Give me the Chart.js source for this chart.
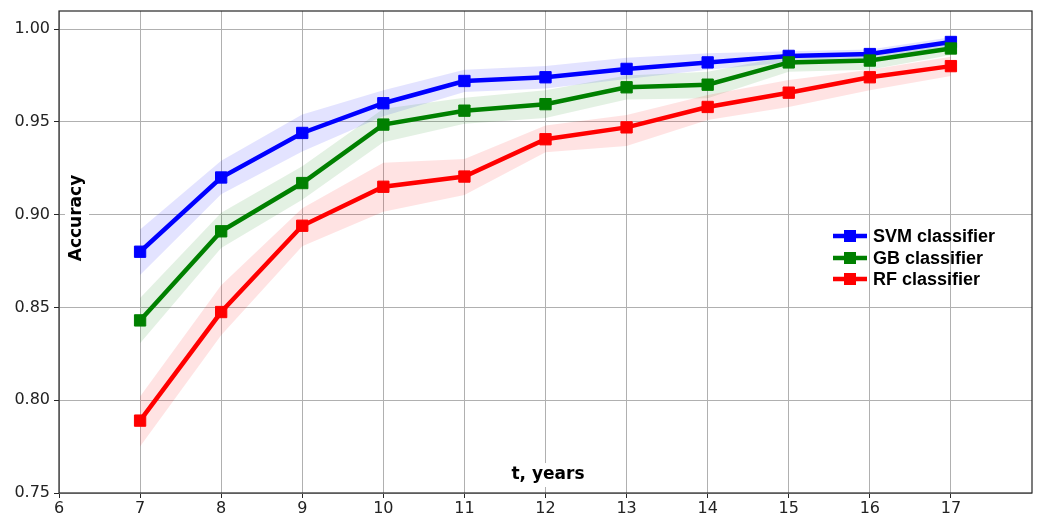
<!DOCTYPE html>
<html><head><meta charset="utf-8">
<script src="https://cdn.jsdelivr.net/npm/chart.js@4.4.0/dist/chart.umd.min.js"></script>
<style>html,body{margin:0;padding:0;background:#fff}#wrap{width:1038px;height:515px;position:relative}</style>
</head><body><div id="wrap"><canvas id="c" width="1038" height="515"></canvas></div>
<script>
const years = [7, 8, 9, 10, 11, 12, 13, 14, 15, 16, 17];
const xTicks = [6, 7, 8, 9, 10, 11, 12, 13, 14, 15, 16, 17];
const yTicks = [0.75, 0.80, 0.85, 0.90, 0.95, 1.00];

const svmAcc  = [0.880, 0.920, 0.944, 0.960, 0.972, 0.974, 0.9785, 0.982, 0.9855, 0.9865, 0.993];
const svmHigh = [0.892, 0.929, 0.954, 0.967, 0.978, 0.980, 0.9845, 0.987, 0.988, 0.989, 0.9955];
const svmLow  = [0.8675, 0.911, 0.934, 0.953, 0.966, 0.968, 0.973, 0.978, 0.982, 0.984, 0.990];

const gbAcc  = [0.843, 0.891, 0.917, 0.9485, 0.956, 0.9595, 0.9686, 0.970, 0.982, 0.983, 0.9895];
const gbHigh = [0.855, 0.901, 0.926, 0.957, 0.963, 0.967, 0.975, 0.977, 0.9855, 0.987, 0.993];
const gbLow  = [0.8307, 0.882, 0.908, 0.939, 0.949, 0.952, 0.962, 0.9627, 0.977, 0.978, 0.986];

const rfAcc  = [0.789, 0.8475, 0.894, 0.915, 0.9205, 0.9406, 0.947, 0.958, 0.9657, 0.974, 0.980];
const rfHigh = [0.802, 0.862, 0.9034, 0.928, 0.930, 0.948, 0.9537, 0.9644, 0.9725, 0.978, 0.985];
const rfLow  = [0.775, 0.835, 0.883, 0.9016, 0.9106, 0.9336, 0.937, 0.951, 0.958, 0.967, 0.9747];

const seriesNames = ['SVM classifier', 'GB classifier', 'RF classifier'];
const seriesColors = ['#0000ff', '#008000', '#ff0000'];
const bandColors = ['rgba(0,0,255,0.11)', 'rgba(0,128,0,0.11)', 'rgba(255,0,0,0.11)'];

const pts = arr => years.map((x, i) => ({x: x, y: arr[i]}));

function lineDs(label, data, color, order) {
  return {label, data: pts(data), borderColor: color, backgroundColor: color,
    borderWidth: 4.5, pointStyle: 'rect', pointRadius: 8, pointHoverRadius: 8,
    pointBorderWidth: 1, pointBackgroundColor: color, pointBorderColor: color,
    fill: false, tension: 0, order};
}
function bandDs(label, data, color, fill, order) {
  return {label, data: pts(data), borderColor: 'rgba(0,0,0,0)', borderWidth: 0,
    backgroundColor: color, pointRadius: 0, pointHoverRadius: 0, fill, tension: 0, order};
}

const datasets = [
  lineDs(seriesNames[2], rfAcc, seriesColors[2], 0),
  lineDs(seriesNames[1], gbAcc, seriesColors[1], 1),
  lineDs(seriesNames[0], svmAcc, seriesColors[0], 2),
  bandDs('svmHigh', svmHigh, bandColors[0], '+1', 5),
  bandDs('svmLow', svmLow, bandColors[0], false, 5),
  bandDs('gbHigh', gbHigh, bandColors[1], '+1', 4),
  bandDs('gbLow', gbLow, bandColors[1], false, 4),
  bandDs('rfHigh', rfHigh, bandColors[2], '+1', 3),
  bandDs('rfLow', rfLow, bandColors[2], false, 3)
];

const decor = {
  id: 'decor',
  afterDraw(chart) {
    const ctx = chart.ctx, a = chart.chartArea;
    ctx.save();
    ctx.strokeStyle = '#262626';
    ctx.lineWidth = 1.2;
    ctx.strokeRect(a.left, a.top, a.right - a.left, a.bottom - a.top);
    ctx.font = 'bold 17px "DejaVu Sans"';
    ctx.textAlign = 'center';
    ctx.textBaseline = 'middle';
    let w = ctx.measureText('t, years').width;
    ctx.fillStyle = '#fff';
    ctx.fillRect(548 - w / 2 - 3, 463, w + 6, 24);
    ctx.fillStyle = '#000';
    ctx.fillText('t, years', 548, 475);
    ctx.save();
    ctx.translate(77, 218);
    ctx.rotate(-Math.PI / 2);
    w = ctx.measureText('Accuracy').width;
    ctx.fillStyle = '#fff';
    ctx.fillRect(-w / 2 - 3, -12, w + 6, 24);
    ctx.fillStyle = '#000';
    ctx.fillText('Accuracy', 0, 0);
    ctx.restore();
    const rows = [236, 258, 279];
    ctx.font = 'bold 18px "Liberation Sans"';
    ctx.textAlign = 'left';
    for (let i = 0; i < 3; i++) {
      const y = rows[i], c = seriesColors[i];
      ctx.strokeStyle = c; ctx.lineWidth = 4.5;
      ctx.beginPath(); ctx.moveTo(833, y); ctx.lineTo(867, y); ctx.stroke();
      ctx.fillStyle = c;
      ctx.fillRect(850 - 6, y - 6, 12, 12);
      ctx.fillStyle = '#000';
      ctx.fillText(seriesNames[i], 873, y + 1);
    }
    ctx.restore();
  }
};

new Chart(document.getElementById('c'), {
  type: 'line',
  data: {datasets},
  options: {
    responsive: false,
    animation: false,
    devicePixelRatio: 1,
    layout: {autoPadding: false, padding: {top: 11, right: 6, left: 0, bottom: 0}},
    plugins: {legend: {display: false}, tooltip: {enabled: false}, filler: {propagate: false}},
    scales: {
      x: {
        type: 'linear', min: 6, max: 18,
        afterBuildTicks: s => { s.ticks = xTicks.map(v => ({value: v})); },
        afterFit: s => { s.height = 22; s.paddingLeft = 0; s.paddingRight = 0; },
        ticks: {font: {family: 'DejaVu Sans', size: 16}, color: '#222', padding: 1, maxRotation: 0,
          callback: v => String(v)},
        grid: {color: '#b0b0b0', lineWidth: 1, tickLength: 5, tickColor: '#262626'},
        border: {display: false}
      },
      y: {
        type: 'linear', min: 0.75, max: 1.0097,
        afterBuildTicks: s => { s.ticks = yTicks.map(v => ({value: v})); },
        afterFit: s => { s.width = 59; s.paddingTop = 0; s.paddingBottom = 0; },
        ticks: {font: {family: 'DejaVu Sans', size: 16}, color: '#222', padding: 4,
          callback: v => Number(v).toFixed(2)},
        grid: {color: '#b0b0b0', lineWidth: 1, tickLength: 5, tickColor: '#262626'},
        border: {display: false}
      }
    }
  },
  plugins: [decor]
});
</script>
</body></html>
